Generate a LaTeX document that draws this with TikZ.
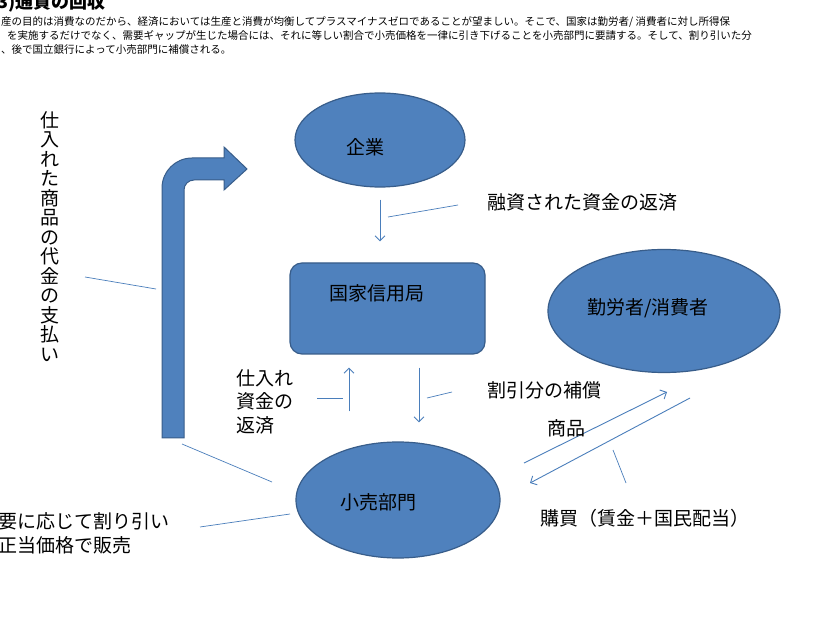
\documentclass[tikz,border=0pt]{standalone}
\usepackage{fontspec}
\setmainfont{Noto Sans CJK JP}
\usetikzlibrary{shapes.geometric,arrows.meta}
\definecolor{boxblue}{HTML}{4F81BD}
\definecolor{boxedge}{HTML}{385D8A}
\definecolor{linkblue}{HTML}{4A7EBB}

\begin{document}
\begin{tikzpicture}[x=1pt,y=-1pt,
        blob/.style={ellipse,fill=boxblue,draw=boxedge,line width=1.2pt},
        lbl/.style={font=\fontsize{19}{23.5}\selectfont,inner sep=0pt},
        arr/.style={draw=linkblue,line width=0.9pt,-{Straight Barb[length=5pt,width=10pt]}},
        callout/.style={draw=linkblue,line width=0.7pt}]
        \clip (0,0) rectangle (820,620);
        \fill[white] (0,0) rectangle (820,620);
        % heading and explanation, cut off at the left border
        \node[anchor=west,inner sep=0pt,font=\fontsize{18}{20}\selectfont\bfseries] (titel) at (-3,3) {3)通貨の回収};
        \node[anchor=west,inner sep=0pt,align=left,font=\fontsize{10.5}{14}\selectfont] (erkl) at (1,35.5)
            {産の目的は消費なのだから、経済においては生産と消費が均衡してプラスマイナスゼロであることが望ましい。そこで、国家は勤労者/ 消費者に対し所得保\\
             \hspace{6pt}を実施するだけでなく、需要ギャップが生じた場合には、それに等しい割合で小売価格を一律に引き下げることを小売部門に要請する。そして、割り引いた分\\
             、後で国立銀行によって小売部門に補償される。};

        % the four actors
        \node[blob,minimum width=170pt,minimum height=94pt] (kigyo) at (380,140) {};
        \node[rectangle,rounded corners=12pt,fill=boxblue,draw=boxedge,line width=1.2pt,
              minimum width=195pt,minimum height=91pt] (kokka) at (387.5,308.5) {};
        \node[blob,minimum width=232pt,minimum height=123pt] (rodo) at (664,311) {};
        \node[blob,minimum width=204pt,minimum height=116pt] (kouri) at (398,500) {};
        \node[lbl] at (365,147) {企業};
        \node[lbl] at (377,293) {国家信用局};
        \node[lbl] at (648,308) {勤労者/消費者};
        \node[lbl] at (378,502) {小売部門};

        % big bent arrow from the retail sector up to the firms
        \filldraw[fill=boxblue,draw=boxedge,line width=1pt]
            (162,438) -- (162,188) arc[start angle=180,end angle=270,radius=30]
            -- (224,158) -- (224,147) -- (247,169) -- (224,190) -- (224,180)
            -- (194,180) arc[start angle=270,end angle=180,radius=10] -- (184,438) -- cycle;

        % thin arrows between the actors
        \path ([xshift=-38.5pt]kokka.south) coordinate (hensai) ([xshift=31.5pt]kokka.south) coordinate (hosho);
        \draw[arr,shorten <=12pt,shorten >=21pt] (kigyo.south) -- (kigyo.south |- kokka.north);
        \draw[arr,shorten <=30pt,shorten >=13pt] (hensai |- kouri.north) -- (hensai);
        \draw[arr,shorten <=13pt,shorten >=19pt] (hosho) -- (hosho |- kouri.north);
        \coordinate (shohinA) at (524,463);
        \coordinate (shohinB) at (667,392);
        \coordinate (konyuA) at (690,398);
        \coordinate (konyuB) at (530,483);
        \draw[arr] (shohinA) -- (shohinB);
        \draw[arr] (konyuA) -- (konyuB);

        % labels
        \node[lbl,align=center,font=\fontsize{19}{19.5}\selectfont] (daikin) at (50,236.5)
            {仕\\入\\れ\\た\\商\\品\\の\\代\\金\\の\\支\\払\\い};
        \node[lbl,anchor=west] (yushi) at (487,202) {融資された資金の返済};
        \node[lbl,anchor=west,align=left] (shire) at (236,401.5) {仕入れ\\資金の\\返済};
        \node[lbl,anchor=west] (waribiki) at (487,390) {割引分の補償};
        \node[lbl,anchor=west] (shohin) at (547,428) {商品};
        \node[lbl,anchor=west] (konyu) at (540,518) {購買（賃金＋国民配当）};
        \node[lbl,anchor=west,align=left,font=\fontsize{19}{24}\selectfont] (hanbai) at (-2,533)
            {要に応じて割り引い\\正当価格で販売};

        % callout lines
        \draw[callout] (85,277) -- (156,289);
        \draw[callout] (182,444) -- (272,482);
        \draw[callout] (388,217) -- (458,205);
        \draw[callout] (317,398) -- (343,398);
        \draw[callout] (427,398) -- (452,392);
        \draw[callout] (613,450) -- (626,483);
        \draw[callout] (200,527) -- (290,514);
\end{tikzpicture}
\end{document}
